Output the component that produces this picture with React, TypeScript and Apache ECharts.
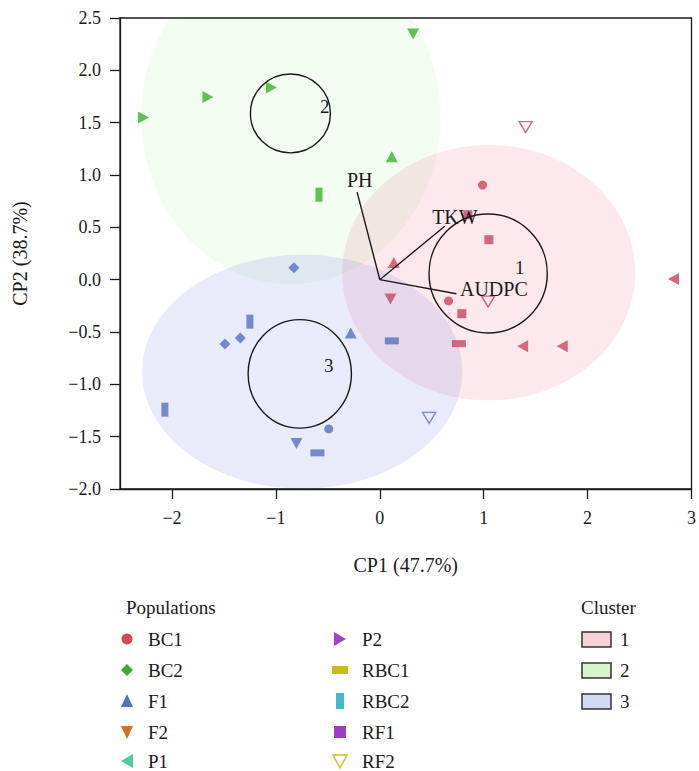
import React, { useEffect, useRef } from 'react';
import * as echarts from 'echarts';

// ---------- data ----------
const populations = ['BC1', 'BC2', 'F1', 'F2', 'P1', 'P2', 'RBC1', 'RBC2', 'RF1', 'RF2'];
const populationColors = ['#d24b58', '#3aae2c', '#5570bf', '#d4731b', '#4fcb9d', '#9d45c3', '#c8b821', '#47b8c7', '#9c40bf', '#d2c02a'];

// each point: [CP1, CP2, cluster]
const BC1 = [[0.989, 0.904, 1], [0.662, -0.203, 1], [-0.491, -1.426, 3]];
const BC2 = [[-0.826, 0.115, 3], [-1.342, -0.557, 3], [-1.49, -0.614, 3]];
const F1 = [[0.116, 1.175, 2], [0.135, 0.165, 1], [-0.279, -0.509, 3]];
const F2 = [[0.321, 2.346, 2], [0.103, -0.184, 1], [-0.802, -1.566, 3]];
const P1 = [[2.826, 0.007, 1], [1.375, -0.637, 1], [1.756, -0.637, 1]];
const P2 = [[-2.274, 1.55, 2], [-1.654, 1.745, 2], [-1.043, 1.837, 2]];
const RBC1 = [[0.761, -0.611, 1], [0.116, -0.585, 3], [-0.6, -1.655, 3]];
const RBC2 = [[-0.585, 0.812, 2], [-1.25, -0.401, 3], [-2.068, -1.242, 3]];
const RF1 = [[1.05, 0.382, 1], [0.79, -0.325, 1], [0.848, 0.621, 1]];
const RF2 = [[1.404, 1.458, 1], [1.043, -0.21, 1], [0.475, -1.321, 3]];
const populationPoints = [BC1, BC2, F1, F2, P1, P2, RBC1, RBC2, RF1, RF2];

const clusterNames = ['1', '2', '3'];
const clusterPointColors = ['#cc4462', '#3bb02e', '#5670c0'];
const clusterLegendFill = ['#f5d3d6', '#d6f5cd', '#d3daf5'];
const clusterEllipseFill = ['rgba(242,102,135,0.15)', 'rgba(105,218,80,0.08)', 'rgba(108,122,222,0.15)'];
const ellipseCX = [1.048, -0.856, -0.747];
const ellipseCY = [0.067, 1.557, -0.879];
const ellipseRX = [1.41, 1.44, 1.54];
const ellipseRY = [1.22, 1.6, 1.117];
const centroidCX = [1.043, -0.86, -0.77];
const centroidCY = [0.059, 1.588, -0.9];
const centroidRX = [0.569, 0.385, 0.497];
const centroidRY = [0.568, 0.377, 0.518];
const clusterLabelX = [1.346, -0.529, -0.49];
const clusterLabelY = [0.115, 1.652, -0.821];

const vectorNames = ['PH', 'TKW', 'AUDPC'];
const vectorX = [-0.218, 0.625, 0.737];
const vectorY = [0.837, 0.51, -0.134];
const vectorLabelX = [-0.193, 0.723, 1.098];
const vectorLabelY = [0.955, 0.602, -0.086];

const xTicks = [-2, -1, 0, 1, 2, 3];
const xMin = -2.5, xMax = 3;
const yMin = -2, yMax = 2.5, yStep = 0.5;

const xTitle = 'CP1 (47.7%)';
const yTitle = 'CP2 (38.7%)';
const legendTitle = 'Populations';
const clusterTitle = 'Cluster';

// ---------- styles ----------
const FONT = '"Liberation Serif", "Times New Roman", serif';
const INK = '#1a1a1a';
const DOWN = 'path://M0,0 L10,0 L5,10 Z';
const LEFT = 'path://M0,5 L10,0 L10,10 Z';
const RIGHT = 'path://M10,5 L0,0 L0,10 Z';
const popSymbols: any[] = [
  { symbol: 'circle', size: 9 },
  { symbol: 'diamond', size: 11 },
  { symbol: 'triangle', size: [12, 11] },
  { symbol: DOWN, size: [12, 11] },
  { symbol: LEFT, size: [11, 12] },
  { symbol: RIGHT, size: [11, 12] },
  { symbol: 'rect', size: [14, 7] },
  { symbol: 'rect', size: [7, 14] },
  { symbol: 'rect', size: [9, 9] },
  { symbol: DOWN, size: [13, 11], hollow: true },
];

const minus = (s: string) => s.replace('-', '\u2212');

function legendIcon(i: number, cx: number, cy: number): any {
  const c = populationColors[i];
  switch (i) {
    case 0: return { type: 'circle', shape: { cx, cy, r: 5.5 }, style: { fill: c } };
    case 1: return { type: 'polygon', shape: { points: [[cx, cy - 6], [cx + 6, cy], [cx, cy + 6], [cx - 6, cy]] }, style: { fill: c } };
    case 2: return { type: 'polygon', shape: { points: [[cx, cy - 7], [cx + 6, cy + 6], [cx - 6, cy + 6]] }, style: { fill: c } };
    case 3: return { type: 'polygon', shape: { points: [[cx - 6, cy - 6], [cx + 6, cy - 6], [cx, cy + 7]] }, style: { fill: c } };
    case 4: return { type: 'polygon', shape: { points: [[cx - 6, cy], [cx + 6, cy - 7], [cx + 6, cy + 7]] }, style: { fill: c } };
    case 5: return { type: 'polygon', shape: { points: [[cx + 6, cy], [cx - 6, cy - 7], [cx - 6, cy + 7]] }, style: { fill: c } };
    case 6: return { type: 'rect', shape: { x: cx - 8, y: cy - 4, width: 16, height: 8 }, style: { fill: c } };
    case 7: return { type: 'rect', shape: { x: cx - 4, y: cy - 8, width: 8, height: 16 }, style: { fill: c } };
    case 8: return { type: 'rect', shape: { x: cx - 6, y: cy - 6, width: 12, height: 12 }, style: { fill: c } };
    default: return { type: 'polygon', shape: { points: [[cx - 7, cy - 6], [cx + 7, cy - 6], [cx, cy + 7]] }, style: { fill: 'none', stroke: c, lineWidth: 1.5 } };
  }
}

function txt(text: string, x: number, y: number, size = 19): any {
  return {
    type: 'text', x, y,
    style: { text, font: `${size}px ${FONT}`, fill: INK, align: 'left', verticalAlign: 'middle', textAlign: 'left', textVerticalAlign: 'middle' },
  };
}

export default function App() {
  const ref = useRef<HTMLDivElement>(null);
  useEffect(() => {
    if (!ref.current) return;
    const chart = echarts.init(ref.current, undefined, { renderer: 'svg' });

    const rows = [639, 670, 701, 732, 761];
    const graphics: any[] = [txt(legendTitle, 126, 607), txt(clusterTitle, 581, 607)];
    populations.forEach((p, i) => {
      const col = i < 5 ? 0 : 1;
      const r = rows[i % 5];
      const iconX = col === 0 ? 127 : 340;
      const textX = col === 0 ? 148 : 362;
      graphics.push(legendIcon(i, iconX, r));
      graphics.push(txt(p, textX, r));
    });
    clusterNames.forEach((n, i) => {
      graphics.push({ type: 'rect', shape: { x: 582, y: rows[i] - 7, width: 29, height: 15 }, style: { fill: clusterLegendFill[i], stroke: '#333', lineWidth: 1.5 } });
      graphics.push(txt(n, 620, rows[i]));
    });

    const scatterSeries = populations.map((p, i) => ({
      type: 'scatter',
      name: p,
      z: 3,
      symbol: popSymbols[i].symbol,
      symbolSize: popSymbols[i].size,
      data: populationPoints[i].map(([x, y, c]) => ({
        value: [x, y],
        itemStyle: popSymbols[i].hollow
          ? { color: 'none', borderColor: clusterPointColors[c - 1], borderWidth: 1.4 }
          : { color: clusterPointColors[c - 1] },
      })),
    }));

    const option: any = {
      animation: false,
      grid: { left: 120, right: 7, top: 18, bottom: 282, show: true, borderColor: INK, borderWidth: 1.3, backgroundColor: 'transparent' },
      xAxis: {
        type: 'value', min: xMin, max: xMax,
        name: xTitle, nameLocation: 'middle', nameGap: 66,
        nameTextStyle: { fontFamily: FONT, fontSize: 20, color: INK },
        axisLine: { show: true, onZero: false, lineStyle: { color: INK, width: 1.3 } },
        axisTick: { show: true, inside: false, length: 10, customValues: xTicks, lineStyle: { color: INK, width: 1.3 } },
        axisLabel: { customValues: xTicks, margin: 20, fontFamily: FONT, fontSize: 18, color: INK, formatter: (v: number) => minus(String(v)) },
        splitLine: { show: false },
      },
      yAxis: {
        type: 'value', min: yMin, max: yMax, interval: yStep,
        name: yTitle, nameLocation: 'middle', nameGap: 90, nameRotate: 90,
        nameTextStyle: { fontFamily: FONT, fontSize: 20, color: INK },
        axisLine: { show: true, onZero: false, lineStyle: { color: INK, width: 1.3 } },
        axisTick: { show: true, inside: false, length: 10, lineStyle: { color: INK, width: 1.3 } },
        axisLabel: { margin: 19, fontFamily: FONT, fontSize: 18, color: INK, formatter: (v: number) => minus(v.toFixed(1)) },
        splitLine: { show: false },
      },
      graphic: graphics,
      series: [
        {
          type: 'custom', name: 'ellipses', z: 1, clip: true, silent: true,
          data: clusterNames.map((n, i) => [ellipseCX[i], ellipseCY[i]]),
          encode: { x: 0, y: 1 },
          renderItem: (params: any, api: any) => {
            const i = params.dataIndex;
            const c = api.coord([ellipseCX[i], ellipseCY[i]]);
            const s = api.size([ellipseRX[i], ellipseRY[i]]);
            return { type: 'ellipse', shape: { cx: c[0], cy: c[1], rx: s[0], ry: s[1] }, style: { fill: clusterEllipseFill[i] } };
          },
        },
        ...scatterSeries,
        {
          type: 'custom', name: 'centroids', z: 4, clip: true, silent: true,
          data: clusterNames.map((n, i) => [centroidCX[i], centroidCY[i]]),
          encode: { x: 0, y: 1 },
          renderItem: (params: any, api: any) => {
            const i = params.dataIndex;
            const c = api.coord([centroidCX[i], centroidCY[i]]);
            const s = api.size([centroidRX[i], centroidRY[i]]);
            const l = api.coord([clusterLabelX[i], clusterLabelY[i]]);
            return {
              type: 'group',
              children: [
                { type: 'ellipse', shape: { cx: c[0], cy: c[1], rx: s[0], ry: s[1] }, style: { fill: 'none', stroke: INK, lineWidth: 1.4 } },
                { type: 'text', style: { text: clusterNames[i], x: l[0], y: l[1], font: `19px ${FONT}`, fill: INK, align: 'center', verticalAlign: 'middle' } },
              ],
            };
          },
        },
        {
          type: 'custom', name: 'vectors', z: 5, clip: false, silent: true,
          data: vectorNames.map((n, i) => [vectorX[i], vectorY[i]]),
          encode: { x: 0, y: 1 },
          renderItem: (params: any, api: any) => {
            const i = params.dataIndex;
            const o = api.coord([0, 0]);
            const e = api.coord([vectorX[i], vectorY[i]]);
            const l = api.coord([vectorLabelX[i], vectorLabelY[i]]);
            return {
              type: 'group',
              children: [
                { type: 'line', shape: { x1: o[0], y1: o[1], x2: e[0], y2: e[1] }, style: { stroke: INK, lineWidth: 1.4 } },
                { type: 'text', style: { text: vectorNames[i], x: l[0], y: l[1], font: `20px ${FONT}`, fill: INK, align: 'center', verticalAlign: 'middle' } },
              ],
            };
          },
        },
      ],
    };
    chart.setOption(option);
    return () => chart.dispose();
  }, []);
  return <div ref={ref} style={{ position: 'fixed', left: 0, top: 0, width: 699, height: 771, background: '#fff' }} />;
}
